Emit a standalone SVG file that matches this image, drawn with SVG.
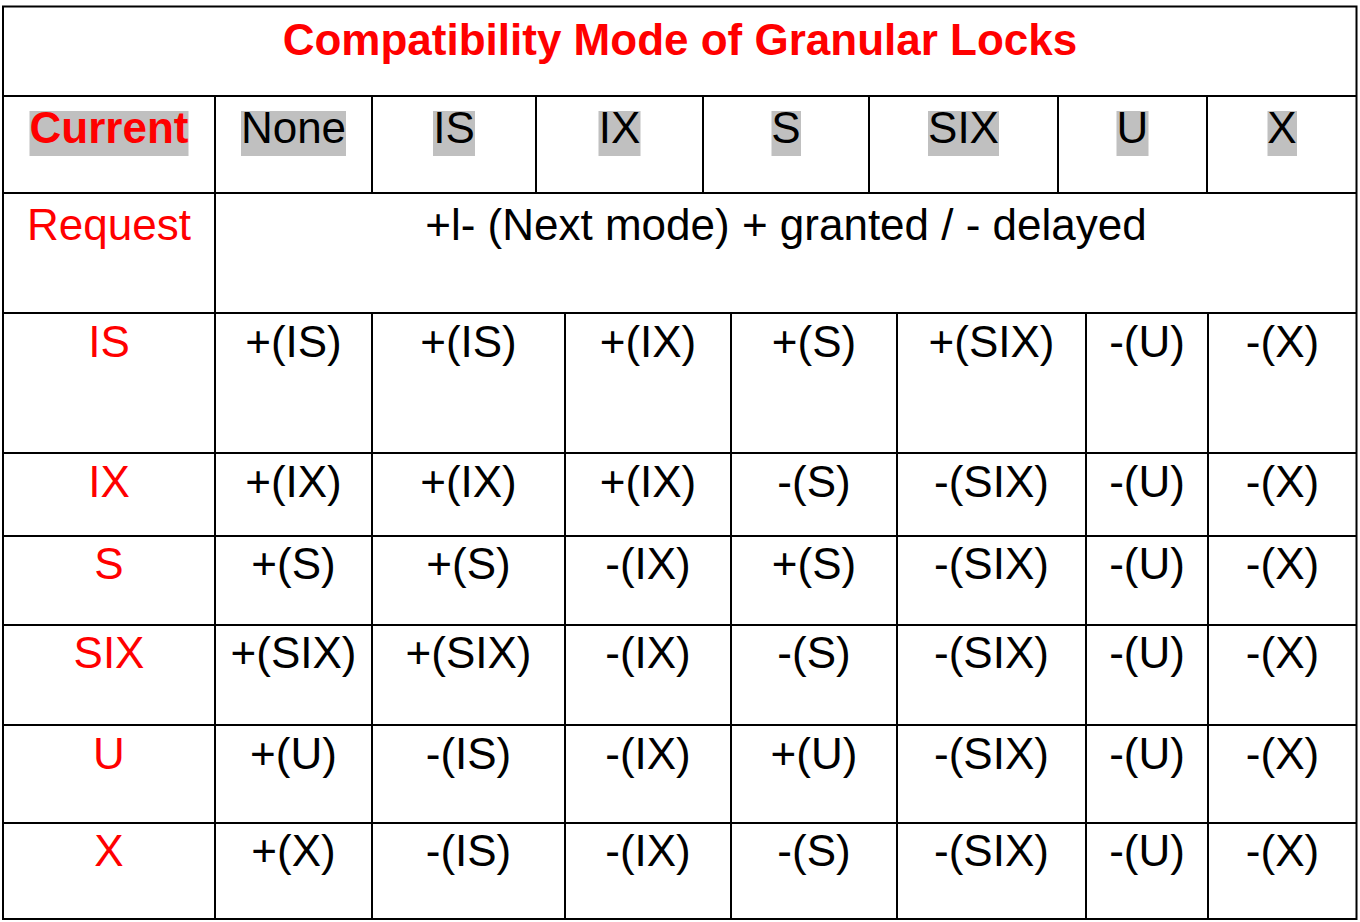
<svg xmlns="http://www.w3.org/2000/svg" width="1360" height="922" viewBox="0 0 1360 922">
<style>
text{font-family:"Liberation Sans",Arial,Helvetica,sans-serif;font-size:44px;text-anchor:middle;fill:#000}
.red{fill:#ff0000}
.b{font-weight:bold}
.hl{fill:#c0c0c0}
.ln{stroke:#000;stroke-width:2;fill:none}
</style>
<rect width="1360" height="922" fill="#fff"/>
<g id="highlights">
<rect class="hl" x="29.5" y="111" width="159" height="45"/>
<rect class="hl" x="241" y="111" width="105" height="45"/>
<rect class="hl" x="433" y="111" width="42" height="45"/>
<rect class="hl" x="598.5" y="111" width="42" height="45"/>
<rect class="hl" x="771.5" y="111" width="29.5" height="45"/>
<rect class="hl" x="928" y="111" width="71" height="45"/>
<rect class="hl" x="1116.5" y="111" width="32" height="45"/>
<rect class="hl" x="1267.5" y="111" width="29.5" height="45"/>
</g>
<g id="grid" class="ln">
<rect x="3" y="6.5" width="1353.5" height="912.5"/>
<path d="M3 96H1356.5M3 193H1356.5M3 313H1356.5M3 453H1356.5M3 536H1356.5M3 625H1356.5M3 725H1356.5M3 823H1356.5"/>
<path d="M215 96V919"/>
<path d="M372 96V193M536 96V193M703 96V193M869 96V193M1058 96V193M1207 96V193"/>
<path d="M372 313V919M565 313V919M731 313V919M897 313V919M1086 313V919M1208 313V919"/>
</g>
<g id="title"><text class="red b" x="680" y="55">Compatibility Mode of Granular Locks</text></g>
<g id="header">
<text class="red b" x="109" y="143">Current</text>
<text x="293.5" y="143">None</text>
<text x="454" y="143">IS</text>
<text x="619.5" y="143">IX</text>
<text x="786" y="143">S</text>
<text x="963.5" y="143">SIX</text>
<text x="1132.5" y="143">U</text>
<text x="1282" y="143">X</text>
</g>
<g id="request">
<text class="red" x="109" y="240">Request</text>
<text x="786" y="240">+l- (Next mode) + granted / - delayed</text>
</g>
<g id="row-IS">
<text class="red" x="109" y="357">IS</text>
<text x="293.5" y="357">+(IS)</text>
<text x="468.5" y="357">+(IS)</text>
<text x="648" y="357">+(IX)</text>
<text x="814" y="357">+(S)</text>
<text x="991.5" y="357">+(SIX)</text>
<text x="1147" y="357">-(U)</text>
<text x="1282.5" y="357">-(X)</text>
</g>
<g id="row-IX">
<text class="red" x="109" y="497">IX</text>
<text x="293.5" y="497">+(IX)</text>
<text x="468.5" y="497">+(IX)</text>
<text x="648" y="497">+(IX)</text>
<text x="814" y="497">-(S)</text>
<text x="991.5" y="497">-(SIX)</text>
<text x="1147" y="497">-(U)</text>
<text x="1282.5" y="497">-(X)</text>
</g>
<g id="row-S">
<text class="red" x="109" y="579">S</text>
<text x="293.5" y="579">+(S)</text>
<text x="468.5" y="579">+(S)</text>
<text x="648" y="579">-(IX)</text>
<text x="814" y="579">+(S)</text>
<text x="991.5" y="579">-(SIX)</text>
<text x="1147" y="579">-(U)</text>
<text x="1282.5" y="579">-(X)</text>
</g>
<g id="row-SIX">
<text class="red" x="109" y="668">SIX</text>
<text x="293.5" y="668">+(SIX)</text>
<text x="468.5" y="668">+(SIX)</text>
<text x="648" y="668">-(IX)</text>
<text x="814" y="668">-(S)</text>
<text x="991.5" y="668">-(SIX)</text>
<text x="1147" y="668">-(U)</text>
<text x="1282.5" y="668">-(X)</text>
</g>
<g id="row-U">
<text class="red" x="109" y="769">U</text>
<text x="293.5" y="769">+(U)</text>
<text x="468.5" y="769">-(IS)</text>
<text x="648" y="769">-(IX)</text>
<text x="814" y="769">+(U)</text>
<text x="991.5" y="769">-(SIX)</text>
<text x="1147" y="769">-(U)</text>
<text x="1282.5" y="769">-(X)</text>
</g>
<g id="row-X">
<text class="red" x="109" y="866">X</text>
<text x="293.5" y="866">+(X)</text>
<text x="468.5" y="866">-(IS)</text>
<text x="648" y="866">-(IX)</text>
<text x="814" y="866">-(S)</text>
<text x="991.5" y="866">-(SIX)</text>
<text x="1147" y="866">-(U)</text>
<text x="1282.5" y="866">-(X)</text>
</g>
</svg>
